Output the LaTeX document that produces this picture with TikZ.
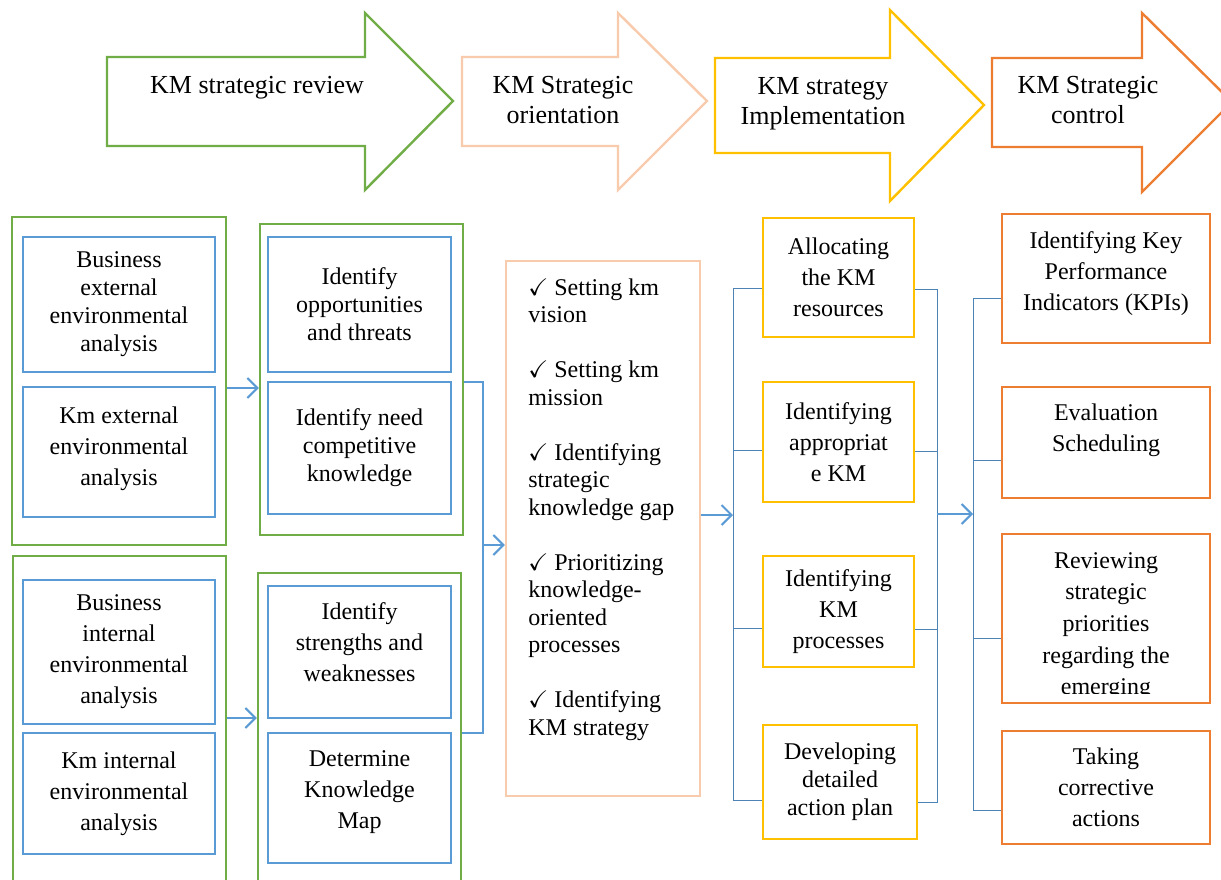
\documentclass[tikz,border=0pt]{standalone}
\usepackage{amssymb}
\usepackage{fontspec}
\setmainfont{Liberation Serif}
\usetikzlibrary{arrows.meta}
\definecolor{kmgreen}{RGB}{112,173,71}
\definecolor{kmblue}{RGB}{91,155,213}
\definecolor{kmpeach}{RGB}{248,203,173}
\definecolor{kmyellow}{RGB}{255,192,0}
\definecolor{kmorange}{RGB}{237,125,49}
\tikzset{
  phase/.style={line width=1.2pt, line join=miter},
  head/.style={align=center, inner sep=0pt, font=\fontsize{13}{15}\selectfont},
  frame/.style={draw=kmgreen, line width=1.2pt, inner sep=0pt},
  bbox/.style={draw=kmblue, line width=1.2pt, inner sep=0pt, align=center},
  ybox/.style={draw=kmyellow, line width=1.2pt, inner sep=0pt, align=center},
  obox/.style={draw=kmorange, line width=1.2pt, inner sep=0pt, align=center},
  link/.style={draw=kmblue, line width=1pt},
  tree/.style={draw=kmblue!85!black, line width=0.5pt},
  barb/.style={-{Straight Barb[length=5pt,width=10pt]}}
}
\begin{document}
\begin{tikzpicture}[x=0.5pt, y=-0.5pt, font=\fontsize{12}{15.5}\selectfont]
    \useasboundingbox (0,0) rectangle (1221,879);
    \draw[phase, kmgreen] (107,57) -- (365,57) -- (365,13) -- (453,101) -- (365,190) -- (365,146) -- (107,146) -- cycle;
    \draw[phase, kmpeach] (462,57) -- (618,57) -- (618,13) -- (707,101) -- (618,190) -- (618,146) -- (462,146) -- cycle;
    \draw[phase, kmyellow] (715,58) -- (890,58) -- (890,10) -- (984,105) -- (890,201) -- (890,153) -- (715,153) -- cycle;
    \draw[phase, kmorange] (992,58) -- (1142,58) -- (1142,13) -- (1232,102) -- (1142,192) -- (1142,147) -- (992,147) -- cycle;
    \node[head] (hreview) at (257,88) {KM strategic review};
    \node[head] (horient) at (563,100) {KM Strategic\\orientation};
    \node[head] (himpl) at (823,104) {KM strategy\\Implementation};
    \node[head] (hcontrol) at (1088,100) {KM Strategic\\control};

    \node[frame, minimum width=107pt, minimum height=164pt] (g1) at (119,381) {};
    \node[frame, minimum width=106.5pt, minimum height=172pt] (g2) at (119.5,728) {};
    \node[frame, minimum width=101.5pt, minimum height=155.5pt] (g3) at (361.5,379.5) {};
    \node[frame, minimum width=101.5pt, minimum height=163.5pt] (g4) at (359.5,736.5) {};
    \node[bbox, minimum width=96pt, minimum height=67.5pt, font=\fontsize{12}{14}\selectfont] (bext) at (119,304.5) {Business\\external\\environmental\\analysis};
    \node[bbox, minimum width=96pt, minimum height=65pt] (kmext) at (119,452) {Km external\\environmental\\analysis\\[-9.5pt]};
    \node[bbox, minimum width=96pt, minimum height=72pt] (bint) at (119,652) {Business\\internal\\environmental\\analysis};
    \node[bbox, minimum width=96pt, minimum height=60.5pt] (kmint) at (119,793.5) {Km internal\\environmental\\analysis};
    \node[bbox, minimum width=91.5pt, minimum height=67.5pt, font=\fontsize{12}{14}\selectfont] (idopp) at (359.5,304.5) {Identify\\opportunities\\and threats};
    \node[bbox, minimum width=91.5pt, minimum height=66pt, font=\fontsize{12}{14}\selectfont] (idneed) at (359.5,448) {Identify need\\competitive\\knowledge};
    \node[bbox, minimum width=91.5pt, minimum height=66pt] (idstr) at (359.5,652) {Identify\\strengths and\\weaknesses\\[-5.5pt]};
    \node[bbox, minimum width=91.5pt, minimum height=65pt] (detmap) at (359.5,798) {Determine\\Knowledge\\Map\\[-7.5pt]};

    \node[draw=kmpeach, line width=1.2pt, minimum width=97pt, minimum height=267.5pt] (orient) at (603,528.5) {};
    \node[anchor=north west, align=left, inner sep=0pt, font=\fontsize{12}{13.75}\selectfont] (orienttext) at (528,278) {$\checkmark$ Setting km\\vision\\[13.75pt]$\checkmark$ Setting km\\mission\\[13.75pt]$\checkmark$ Identifying\\strategic\\knowledge gap\\[13.75pt]$\checkmark$ Prioritizing\\knowledge-\\oriented\\processes\\[13.75pt]$\checkmark$ Identifying\\KM strategy};

    \node[ybox, minimum width=75.5pt, minimum height=59.5pt] (alloc) at (838.5,277.5) {Allocating\\the KM\\resources};
    \node[ybox, minimum width=75.5pt, minimum height=60pt] (appkm) at (838.5,442) {Identifying\\appropriat\\e KM};
    \node[ybox, minimum width=75.5pt, minimum height=55.5pt] (kmproc) at (838.5,611.5) {Identifying\\KM\\processes};
    \node[ybox, minimum width=77pt, minimum height=57pt, font=\fontsize{12}{14}\selectfont] (actplan) at (840,782) {Developing\\detailed\\action plan};

    \node[obox, minimum width=104pt, minimum height=64.5pt] (kpi) at (1106,278.5) {Identifying Key\\Performance\\Indicators (KPIs)\\[-8pt]};
    \node[obox, minimum width=104pt, minimum height=55.5pt] (evsch) at (1106,442.5) {Evaluation\\Scheduling\\[-0.5pt]};
    \node[obox, minimum width=104pt, minimum height=84.5pt] (review) at (1106,618.5) {};
    \node[obox, minimum width=104pt, minimum height=56.5pt] (corr) at (1106,787.5) {Taking\\corrective\\actions};
    \begin{scope}
    \clip (1004,536) rectangle (1208,693);
    \node[anchor=north, align=center, inner sep=0pt, font=\fontsize{12}{15.8}\selectfont] (reviewtext) at (1106,552) {Reviewing\\strategic\\priorities\\regarding the\\emerging};
    \end{scope}

    \coordinate (bkt) at (483,382);
    \coordinate (bkb) at (483,733);
    \coordinate (bkm) at (483,545);
    \draw[link, barb] ([yshift=-3.5pt]g1.east) -- ([yshift=-3.5pt]g1.east -| g3.west);
    \draw[link, barb] ([yshift=5pt]g2.east) -- ([yshift=5pt]g2.east -| g4.west);
    \draw[link] (bkt -| g3.east) -- (bkt) -- (bkb) -- (bkb -| g4.east);
    \draw[link, barb] (bkm) -- (bkm -| orient.west);

    \coordinate (ltop) at (733,288);
    \coordinate (lbot) at (733,800);
    \coordinate (lmid) at (733,515);
    \draw[link, barb] (orient.east |- lmid) -- (lmid);
    \draw[tree] (alloc.west |- ltop) -- (ltop) -- (lbot) -- (actplan.west |- lbot);
    \draw[tree] (appkm.west |- 0,450) -- (ltop |- 0,450);
    \draw[tree] (kmproc.west |- 0,628) -- (ltop |- 0,628);

    \coordinate (mtop) at (937,289);
    \coordinate (mbot) at (937,802);
    \coordinate (mmid) at (937,514);
    \coordinate (rtop) at (973,298);
    \coordinate (rbot) at (973,810);
    \draw[tree] (alloc.east |- mtop) -- (mtop) -- (mbot) -- (actplan.east |- mbot);
    \draw[tree] (appkm.east |- 0,451) -- (mtop |- 0,451);
    \draw[tree] (kmproc.east |- 0,629) -- (mtop |- 0,629);
    \draw[link, barb] (mmid) -- (rtop |- mmid);
    \draw[tree] (kpi.west |- rtop) -- (rtop) -- (rbot) -- (corr.west |- rbot);
    \draw[tree] (evsch.west |- 0,460) -- (rtop |- 0,460);
    \draw[tree] (review.west |- 0,638) -- (rtop |- 0,638);
\end{tikzpicture}
\end{document}
